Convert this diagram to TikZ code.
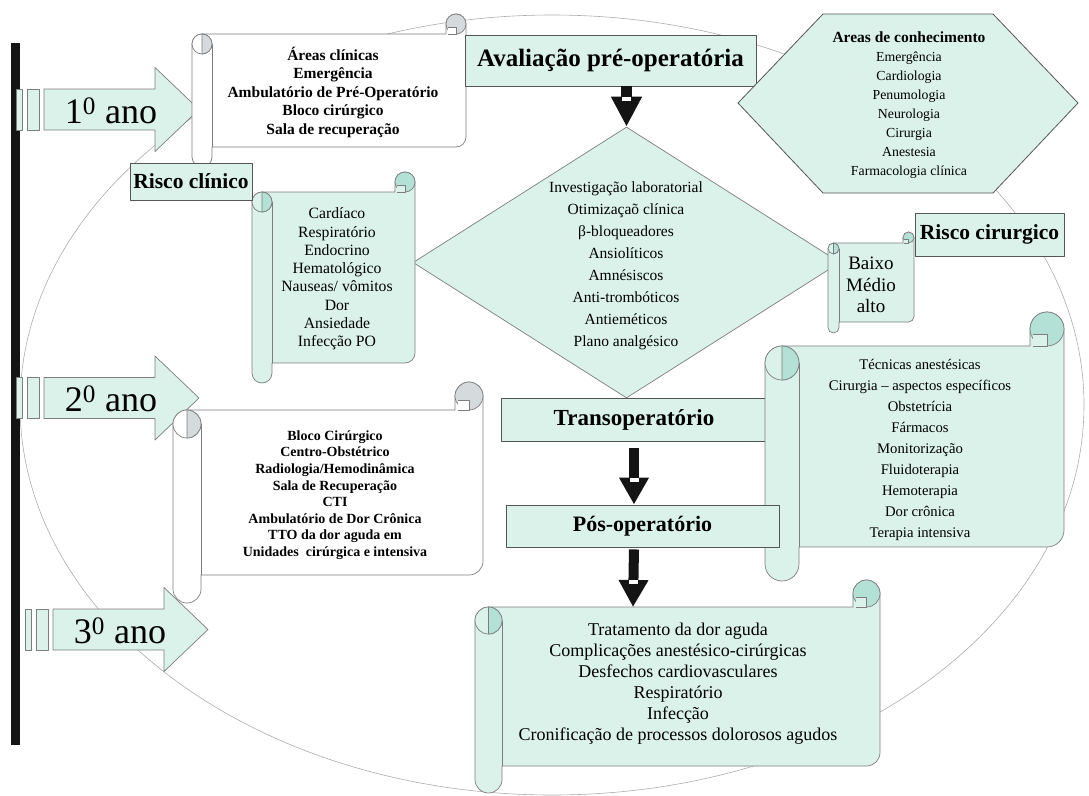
\documentclass[tikz,border=0pt]{standalone}
\usepackage{fontspec}
\setmainfont{Liberation Serif}
\usetikzlibrary{arrows.meta, shapes.geometric, calc}

\definecolor{mint}{RGB}{218,242,234}
\definecolor{mintcurl}{RGB}{180,225,214}
\definecolor{greycurl}{RGB}{213,218,220}
\definecolor{edgegrey}{RGB}{125,125,125}
\definecolor{boxgrey}{RGB}{85,85,85}

\newcommand\fs[2]{\fontsize{#1}{#2}\selectfont}

% scroll: x0, y0, x1, y1, roll size, fill, curl colour
\newcommand\scroll[7]{%
  \pgfmathsetmacro\rollr{#5/2}%
  \filldraw[scrl, fill=#6] (#1,{#2+1.5*#5}) arc[start angle=180, end angle=270, radius=\rollr]
    -- ({#3-#5},{#2+#5}) -- ({#3-#5},{#2+\rollr})
    arc[start angle=180, end angle=360, radius=\rollr]
    -- (#3,{#4-#5-\rollr}) arc[start angle=0, end angle=90, radius=\rollr]
    -- ({#1+#5},{#4-#5}) -- ({#1+#5},{#4-\rollr})
    arc[start angle=0, end angle=180, radius=\rollr] -- cycle;
  \draw[scrl] ({#1+#5},{#2+1.5*#5}) -- ({#1+#5},{#4-#5});
  % left curl
  \filldraw[scrl, fill=#6] ({#1+\rollr},{#2+1.5*#5}) circle[radius=\rollr];
  \filldraw[scrl, fill=#7] ({#1+\rollr},{#2+#5}) arc[start angle=270, end angle=450, radius=\rollr] -- cycle;
  % right curl
  \filldraw[scrl, fill=#7] ({#3-\rollr},{#2+\rollr}) circle[radius=\rollr];
  \filldraw[scrl, fill=#6] ({#3-0.9*#5},{#2+0.65*#5}) -- ({#3-\rollr},{#2+0.65*#5})
    -- ({#3-\rollr},{#2+#5}) -- ({#3-0.9*#5},{#2+#5});
}

% year arrow: x shift, centre y, name, label
\newcommand\yeararrow[4]{%
  \filldraw[yarr] ({#1+16},{#2-20.5}) rectangle ({#1+22},{#2+20.5});
  \filldraw[yarr] ({#1+27},{#2-20.5}) rectangle ({#1+39},{#2+20.5});
  \filldraw[yarr] ({#1+44},{#2-20.5}) -- ({#1+155},{#2-20.5}) -- ({#1+155},{#2-42})
    -- ({#1+199},{#2}) -- ({#1+155},{#2+42}) -- ({#1+155},{#2+20.5})
    -- ({#1+44},{#2+20.5}) -- cycle;
  \node[font=\fs{36}{40}, inner sep=0pt] (#3) at ({#1+111},{#2+1}) {#4};
}

% white mark in the head of a fat arrow
\newcommand\headmark[2]{\fill[white] ($(#1)+(-4.5,-#2)$) rectangle ($(#1)+(4.5,{4-#2})$);}

\begin{document}
\begin{tikzpicture}[x=1pt, y=-1pt, line join=round,
  tbox/.style={draw=boxgrey, fill=mint, line width=0.9pt, inner sep=0pt},
  scrl/.style={draw=edgegrey, line width=0.7pt},
  yarr/.style={draw=edgegrey, fill=mint, line width=0.7pt},
  lst/.style={align=center, inner sep=0pt},
  fat/.style={draw=black!92, line width=11pt, -{Triangle[length=30pt, width=29pt]}},
  fatsm/.style={draw=black!92, line width=10pt, -{Triangle[length=27pt, width=28pt]}}
]
\useasboundingbox (0,0) rectangle (1089,795);

% big ellipse behind everything
\draw[gray!65, line width=0.6pt] (552,405) ellipse[x radius=532, y radius=390];

% time line
\fill[black!92] (11,43) rectangle (20,745);

\yeararrow{0}{109.5}{ano1}{1\textsuperscript{0} ano}
\yeararrow{0}{398}{ano2}{2\textsuperscript{0} ano}
\yeararrow{9}{629.5}{ano3}{3\textsuperscript{0} ano}

% first year
\scroll{192}{14}{466}{167}{20}{white}{greycurl}
\node[lst, font=\bfseries\fs{15.5}{18.5}] (clin) at (333,92)
  {Áreas clínicas\\Emergência\\Ambulatório de Pré-Operatório\\Bloco cirúrgico\\Sala de recuperação};
\node[tbox, minimum width=291pt, minimum height=51pt, font=\bfseries\fs{25}{28}] (aval)
  at (610.5,60.5) {Avaliação pré-operatória};

% knowledge areas
\filldraw[draw=boxgrey, fill=mint, line width=0.8pt] (738,103) -- (823,14) -- (993,14)
  -- (1078,103) -- (993,193) -- (823,193) -- cycle;
\node[lst, font=\fs{13.8}{19}] (areas) at (909,105)
  {{\bfseries\fs{15.5}{19}Areas de conhecimento}\\Emergência\\Cardiologia\\Penumologia\\Neurologia\\Cirurgia\\Anestesia\\Farmacologia clínica};

% preparation
\node[diamond, draw=edgegrey, fill=mint, line width=0.7pt, minimum width=427pt,
  minimum height=271pt, inner sep=0pt] (diam) at (626.5,262.5) {};
\node[lst, font=\fs{15.5}{22}] (prep) at (626,266)
  {Investigação laboratorial\\Otimizaçaõ clínica\\β-bloqueadores\\Ansiolíticos\\Amnésiscos\\Anti-trombóticos\\Antieméticos\\Plano analgésico};
\draw[fat] (aval.south -| diam.north) -- (diam.north);
\headmark{diam.north}{30}

% clinical risk
\scroll{252}{172}{415}{383}{20}{mint}{mintcurl}
\node[lst, font=\fs{15.7}{18.3}] (riscoitens) at (337,279)
  {Cardíaco\\Respiratório\\Endocrino\\Hematológico\\Nauseas/ vômitos\\Dor\\Ansiedade\\Infecção PO};
\node[tbox, minimum width=122pt, minimum height=37pt, font=\bfseries\fs{21.5}{24}] (riscl)
  at (191,181.5) {Risco clínico};

% surgical risk
\scroll{828}{232}{914}{333}{11}{mint}{mintcurl}
\node[lst, font=\fs{19}{21.5}] (graus) at (871,285) {Baixo\\Médio\\alto};
\node[tbox, minimum width=149pt, minimum height=43pt, font=\bfseries\fs{21.5}{24}] (riscir)
  at (989.5,234.5) {Risco cirurgico};

% second year
\scroll{173}{382}{483}{603}{28}{white}{greycurl}
\node[lst, font=\bfseries\fs{14}{16.6}] (locais) at (335,495)
  {Bloco Cirúrgico\\Centro-Obstétrico\\Radiologia/Hemodinâmica\\Sala de Recuperação\\CTI\\Ambulatório de Dor Crônica\\TTO da dor aguda em\\Unidades\ \ cirúrgica e intensiva};

\node[tbox, minimum width=266pt, minimum height=43pt, font=\bfseries\fs{23}{26}] (trans)
  at (634,419.5) {Transoperatório};
\scroll{765}{312}{1064}{581}{34}{mint}{mintcurl}
\node[lst, font=\fs{14.7}{21}] (tecnicas) at (920,450)
  {Técnicas anestésicas\\Cirurgia – aspectos específicos\\Obstetrícia\\Fármacos\\Monitorização\\Fluidoterapia\\Hemoterapia\\Dor crônica\\Terapia intensiva};
\node[tbox, minimum width=273pt, minimum height=42pt, font=\bfseries\fs{22}{25}] (pos)
  at (642.5,526) {Pós-operatório};
\coordinate (tip2) at (trans.south |- pos.north);
\draw[fatsm, shorten <=7pt] (trans.south) -- (tip2);
\headmark{tip2}{27}

% third year
\scroll{475}{580}{880}{793}{27}{mint}{mintcurl}
\node[lst, font=\fs{18}{21}] (dor) at (678,684)
  {Tratamento da dor aguda\\Complicações anestésico-cirúrgicas\\Desfechos cardiovasculares\\Respiratório\\Infecção\\Cronificação de processos dolorosos agudos};
\coordinate (dortop) at (633,607);
\draw[fatsm, shorten <=2pt] (trans.south |- pos.south) -- (dortop);
\headmark{dortop}{27}
\end{tikzpicture}
\end{document}
